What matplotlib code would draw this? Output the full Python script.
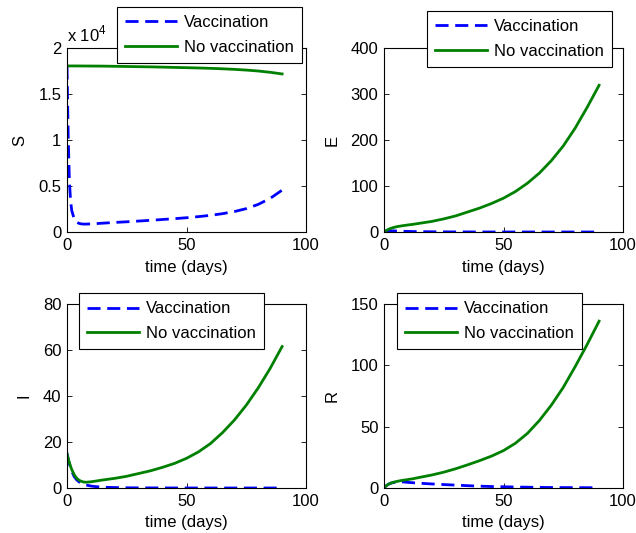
import matplotlib
matplotlib.use("Agg")
import matplotlib.pyplot as plt

plt.rcParams['font.family'] = ['Liberation Sans', 'DejaVu Sans']
plt.rcParams['mathtext.fontset'] = 'custom'
plt.rcParams['mathtext.rm'] = 'Liberation Sans'

# ---- data ----
t = [0, 0.5, 1, 1.5, 2, 3, 4, 5, 6, 7, 8, 10, 12, 15, 20, 25, 30, 35, 40, 45,
     50, 55, 60, 65, 70, 75, 80, 85, 90]

S_vacc = [18000, 10500, 5500, 3400, 2300, 1450, 1080, 940, 880, 860, 860, 880, 910, 960,
          1040, 1110, 1190, 1270, 1360, 1450, 1550, 1670, 1810, 1990, 2220, 2540, 3000,
          3650, 4550]
S_novacc = [18050, 18050, 18050, 18050, 18050, 18050, 18050, 18048, 18046, 18044, 18042,
            18040, 18035, 18030, 18010, 17990, 17970, 17950, 17920, 17890, 17860, 17830,
            17790, 17740, 17680, 17600, 17500, 17360, 17180]

E_vacc = [0, 0.9, 1.5, 1.9, 2.2, 2.5, 2.4, 2.2, 2.0, 1.8, 1.6, 1.3, 1.0, 0.8, 0.5, 0.3,
          0.2, 0.15, 0.1, 0.07, 0.05, 0.04, 0.03, 0.02, 0.02, 0.01, 0.01, 0.01, 0.01]
E_novacc = [0, 1.8, 3.4, 4.8, 6.1, 8.2, 9.8, 11.1, 12.2, 13.0, 13.8, 15.3, 16.6, 19.0,
            23.0, 28.5, 35.0, 43.5, 52.0, 62.0, 73.5, 88.0, 106.0, 128.0, 155.0, 187.0,
            226.0, 271.0, 319.0]

I_vacc = [15, 12.6, 10.5, 8.8, 7.3, 5.0, 3.6, 2.7, 2.0, 1.6, 1.3, 0.85, 0.6, 0.35, 0.2,
          0.1, 0.06, 0.04, 0.03, 0.02, 0.01, 0.01, 0.01, 0.0, 0.0, 0.0, 0.0, 0.0, 0.0]
I_novacc = [15, 12.8, 11.0, 9.4, 8.0, 5.8, 4.3, 3.4, 2.9, 2.6, 2.5, 2.7, 3.0, 3.5, 4.2,
            5.1, 6.3, 7.5, 9.0, 10.7, 12.9, 15.7, 19.3, 24.0, 29.5, 36.0, 43.5, 52.0, 61.5]

R_vacc = [0, 1.0, 1.9, 2.6, 3.2, 4.0, 4.5, 4.8, 4.95, 5.0, 4.95, 4.6, 4.3, 3.9, 3.3, 2.8,
          2.35, 1.9, 1.5, 1.2, 1.0, 0.8, 0.65, 0.5, 0.4, 0.35, 0.3, 0.25, 0.2]
R_novacc = [0, 1.0, 1.9, 2.6, 3.2, 4.1, 4.7, 5.2, 5.6, 6.0, 6.3, 6.9, 7.5, 8.7, 10.6,
            12.9, 15.7, 18.9, 22.3, 26.0, 30.5, 36.5, 44.5, 55.0, 67.5, 82.0, 99.0, 117.0,
            136.0]

labels = ['Vaccination', 'No vaccination']
ylabels = ['S', 'E', 'I', 'R']
xlabel = 'time (days)'
xticks = [0, 50, 100]
yticks_list = [[0, 5000, 10000, 15000, 20000], [0, 100, 200, 300, 400],
               [0, 20, 40, 60, 80], [0, 50, 100, 150]]
yticklabels_S = ['0', '0.5', '1', '1.5', '2']

W, H = 636, 533
fig = plt.figure(figsize=(W / 100, H / 100), dpi=100)

FS = 12


def rect(l, t_, r, b):
    return [l / W, 1 - b / H, (r - l) / W, (b - t_) / H]


ax_rects = [rect(67, 48, 306, 232), rect(384, 48, 623, 232),
            rect(67, 304, 306, 488), rect(384, 304, 623, 488)]
legend_pos = [(117, 7), (427, 11), (79, 293), (397, 293)]
series = [(S_vacc, S_novacc), (E_vacc, E_novacc), (I_vacc, I_novacc), (R_vacc, R_novacc)]

for k in range(4):
    ax = fig.add_axes(ax_rects[k])
    v, nv = series[k]
    l1, = ax.plot(t, v, color='#0000ff', lw=2.0, ls=(0, (4.7, 2.4)))
    l2, = ax.plot(t, nv, color='#008000', lw=2.0)
    ax.set_xlim(0, 100)
    yt = yticks_list[k]
    ax.set_ylim(yt[0], yt[-1])
    ax.set_xticks(xticks)
    ax.set_yticks(yt)
    if k == 0:
        ax.set_yticklabels(yticklabels_S)
        ax.text(0.0, 1.02, r'x 10$^{4}$', transform=ax.transAxes, fontsize=FS,
                ha='left', va='bottom')
    ax.tick_params(direction='in', length=3.5, width=0.6, top=True, right=True,
                   labelsize=FS, pad=4)
    for s in ax.spines.values():
        s.set_linewidth(0.8)
    ax.set_xlabel(xlabel, fontsize=FS, labelpad=5)
    ax.set_ylabel(ylabels[k], fontsize=FS, labelpad=8)
    lx, ly = legend_pos[k]
    leg = fig.legend([l1, l2], labels, loc='upper left',
                     bbox_to_anchor=(lx / W, 1 - ly / H), fontsize=FS,
                     frameon=True, fancybox=False, edgecolor='black', framealpha=1,
                     handlelength=3.1, handletextpad=0.4, borderpad=0.5,
                     labelspacing=0.55, borderaxespad=0)
    leg.get_frame().set_linewidth(0.8)

fig.savefig('out.png', dpi=100)
